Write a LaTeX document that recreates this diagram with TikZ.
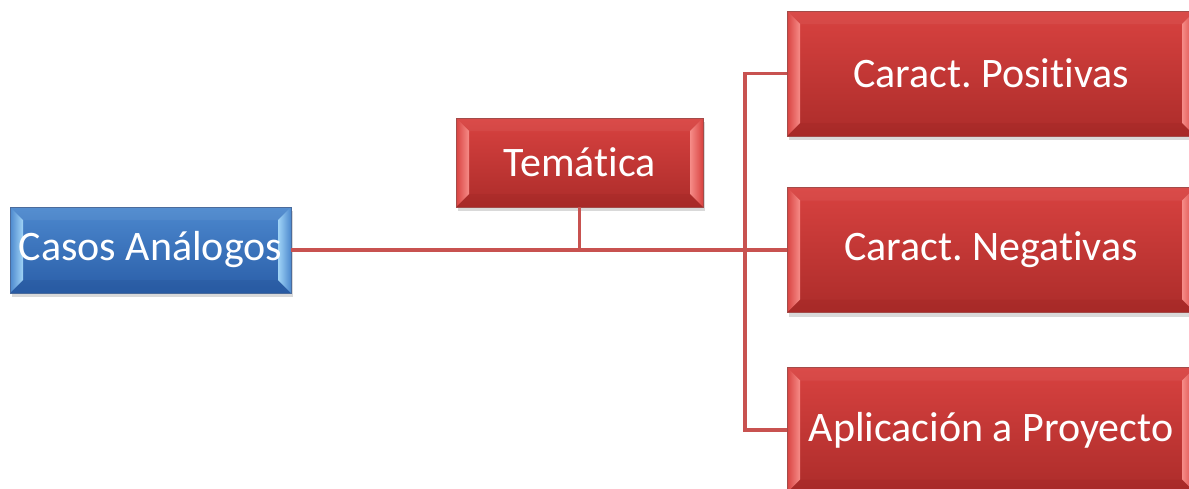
\documentclass[tikz,border=0pt]{standalone}
\usepackage{fontspec}
\setmainfont{Carlito}[Ligatures=NoCommon]
\frenchspacing
\usetikzlibrary{shadows,calc}
\definecolor{redtop}{RGB}{216,66,64}
\definecolor{redbot}{RGB}{172,44,42}
\definecolor{redlight}{RGB}{246,140,136}
\definecolor{reddark}{RGB}{140,30,28}
\definecolor{bluetop}{RGB}{76,136,206}
\definecolor{bluebot}{RGB}{42,94,168}
\definecolor{bluelight}{RGB}{160,212,246}
\definecolor{bluedark}{RGB}{30,70,130}
\definecolor{connred}{RGB}{200,82,80}
\newcommand\bevelset[4]{%
  \coordinate (NW) at (path picture bounding box.north west);
  \coordinate (SW) at (path picture bounding box.south west);
  \coordinate (NE) at (path picture bounding box.north east);
  \coordinate (SE) at (path picture bounding box.south east);
  \shade[left color=#4, right color=#1] (NW) -- (SW) -- ($(SW)+(13pt,13pt)$) -- ($(NW)+(13pt,-13pt)$) -- cycle;
  \shade[left color=#1, right color=#4] (NE) -- (SE) -- ($(SE)+(-13pt,13pt)$) -- ($(NE)+(-13pt,-13pt)$) -- cycle;
  \fill[#2, opacity=.15] (SW) -- (SE) -- ($(SE)+(-13pt,13pt)$) -- ($(SW)+(13pt,13pt)$) -- cycle;
  \fill[#3, opacity=.05] (NW) -- (NE) -- ($(NE)+(-13pt,-13pt)$) -- ($(NW)+(13pt,-13pt)$) -- cycle;
}
\tikzset{
  box/.style={inner sep=0pt, text=white, font=\fontsize{42}{42}\selectfont,
    drop shadow={opacity=.3, shadow xshift=2pt, shadow yshift=-4pt}},
  redbox/.style={box, top color=redtop, bottom color=redbot, draw=reddark!80, line width=.8pt,
    path picture={\bevelset{redlight}{reddark}{white}{redtop}}},
  bluebox/.style={box, top color=bluetop, bottom color=bluebot, draw=bluedark!80, line width=.8pt,
    path picture={\bevelset{bluelight}{bluedark}{white}{bluetop}}},
  conn/.style={draw=connred, line width=3.5pt}
}
\begin{document}
\begin{tikzpicture}[x=1pt,y=-1pt]
\useasboundingbox (0,0) rectangle (1189,488);
\begin{scope}
\clip (0,0) rectangle (1189,488);
\node[bluebox, minimum width=281pt, minimum height=86pt] (cas) at (150.5,250) {Casos Análogos};
\node[redbox, minimum width=247pt, minimum height=89pt] (tem) at (579.5,162.5) {Temática};
\node[redbox, minimum width=408pt, minimum height=125pt] (pos) at (991,73.5) {Caract. Positivas};
\node[redbox, minimum width=408pt, minimum height=125pt] (neg) at (991,250) {Caract. Negativas};
\node[redbox, minimum width=408pt, minimum height=125pt] (apl) at (991,430) {Aplicación a Proyecto};
\coordinate (br) at (745,250);
\draw[conn] (cas.east) -- (neg.west);
\draw[conn] (tem.south) -- (tem.south |- cas.east);
\draw[conn] (pos.west) -| (br) |- (apl.west);
\end{scope}
\end{tikzpicture}
\end{document}
